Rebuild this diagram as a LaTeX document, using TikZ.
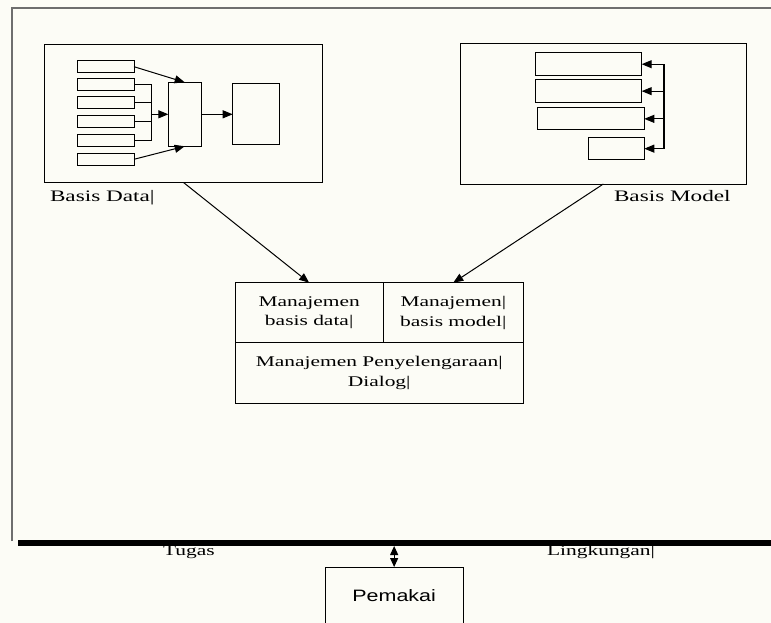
\documentclass[tikz,border=0pt]{standalone}
\usepackage{fontspec}
\setmainfont{Liberation Serif}[FakeStretch=1.45]
\newfontfamily\pemfont{Liberation Sans}[FakeStretch=1.3]
\usetikzlibrary{arrows.meta}
\definecolor{paper}{RGB}{252,252,246}
\definecolor{framegray}{RGB}{110,110,110}
\tikzset{
  box/.style={draw=black, line width=1pt, rectangle, inner sep=0pt, outer sep=0pt},
  cell/.style={box, align=center, font=\fontsize{14.8}{19.6}\selectfont},
  lbl/.style={inner sep=0pt, outer sep=0pt, font=\fontsize{14.8}{17}\selectfont},
  biglbl/.style={lbl, font=\fontsize{16}{18}\selectfont},
  wire/.style={line width=1pt},
  arr/.style={line width=1pt, -{Triangle[length=10pt,width=8pt]}},
  darr/.style={line width=1pt, {Triangle[length=9pt,width=8pt]}-{Triangle[length=9pt,width=8pt]}}
}
\begin{document}
\begin{tikzpicture}[x=1pt,y=-1pt]
\useasboundingbox (0,0) rectangle (771,623);
\clip (0,0) rectangle (771,623);
\fill[paper] (0,0) rectangle (771,623);

% outer frame and its heavy lower edge
\draw[framegray, line width=1.4pt] (12,541) -- (12,8) -- (780,8);
\node[fill=black, inner sep=0pt, outer sep=0pt, minimum width=762pt, minimum height=6pt] (bar) at (399,543) {};

% data base block
\node[box, minimum width=278pt, minimum height=137.5pt] (basisdata) at (183.5,113.75) {};
\node[box, minimum width=57pt, minimum height=12pt] (d1) at (105.5,66.7) {};
\node[box, minimum width=57pt, minimum height=12pt] (d2) at (105.5,85) {};
\node[box, minimum width=57pt, minimum height=12pt] (d3) at (105.5,103) {};
\node[box, minimum width=57pt, minimum height=12pt] (d4) at (105.5,121.3) {};
\node[box, minimum width=57pt, minimum height=12pt] (d5) at (105.5,140.3) {};
\node[box, minimum width=57pt, minimum height=12pt] (d6) at (105.5,159.3) {};
\node[box, minimum width=32.7pt, minimum height=64pt] (mid) at (184.7,114.3) {};
\node[box, minimum width=46.6pt, minimum height=61.4pt] (out) at (256,114.3) {};
\draw[arr] (d1.east) -- (mid.north);
\draw[arr] (d6.east) -- (mid.south);
\draw[wire] (d2.east) -- ++(17,0) coordinate (b2) -- (b2 |- d5.east) -- (d5.east);
\draw[wire] (d3.east) -- (d3.east -| b2);
\draw[wire] (d4.east) -- (d4.east -| b2);
\draw[arr] (b2 |- mid.west) -- (mid.west);
\draw[arr] (mid.east) -- (out.west);
\node[biglbl, anchor=base west] (ldata) at (50,201) {Basis Data|};

% model base block
\node[box, minimum width=286.7pt, minimum height=140pt] (basismodel) at (603.35,114) {};
\node[box, minimum width=106.7pt, minimum height=23pt] (m1) at (588.35,64.2) {};
\node[box, minimum width=106.7pt, minimum height=22.3pt] (m2) at (588.35,91.15) {};
\node[box, minimum width=107pt, minimum height=22.3pt] (m3) at (590.8,118.85) {};
\node[box, minimum width=56pt, minimum height=22.7pt] (m4) at (616.3,148.65) {};
\coordinate (mb) at (664.3,64.2);
\draw[line width=1.8pt] (mb) -- (mb |- m4.east);
\draw[arr] (mb) -- (m1.east);
\draw[arr] (mb |- m2.east) -- (m2.east);
\draw[arr] (mb |- m3.east) -- (m3.east);
\draw[arr] (mb |- m4.east) -- (m4.east);
\node[biglbl, anchor=base west] (lmodel) at (614,201) {Basis Model};

% management block
\node[cell, minimum width=148.3pt, minimum height=60pt] (cellA) at (309.15,312.7) {Manajemen\\basis data|};
\node[cell, minimum width=140pt, minimum height=60pt] (cellB) at (453.3,312.7) {Manajemen|\\basis model|};
\node[cell, minimum width=288.3pt, minimum height=60.6pt] (cellC) at (379.15,373) {Manajemen Penyelengaraan|\\Dialog|};
\draw[arr] (basisdata.south) -- (cellA.north);
\draw[arr] (basismodel.south) -- (cellB.north);

% user
\node[box, minimum width=138.3pt, minimum height=58pt, font=\pemfont\fontsize{16.5}{19}\selectfont] (pemakai) at (394.15,596) {Pemakai};
\draw[darr] (bar.south -| pemakai.north) -- (pemakai.north);
\node[lbl, anchor=base west] (tugas) at (163,555) {Tugas};
\node[lbl, anchor=base west] (lingk) at (547,555) {Lingkungan|};
\end{tikzpicture}
\end{document}
